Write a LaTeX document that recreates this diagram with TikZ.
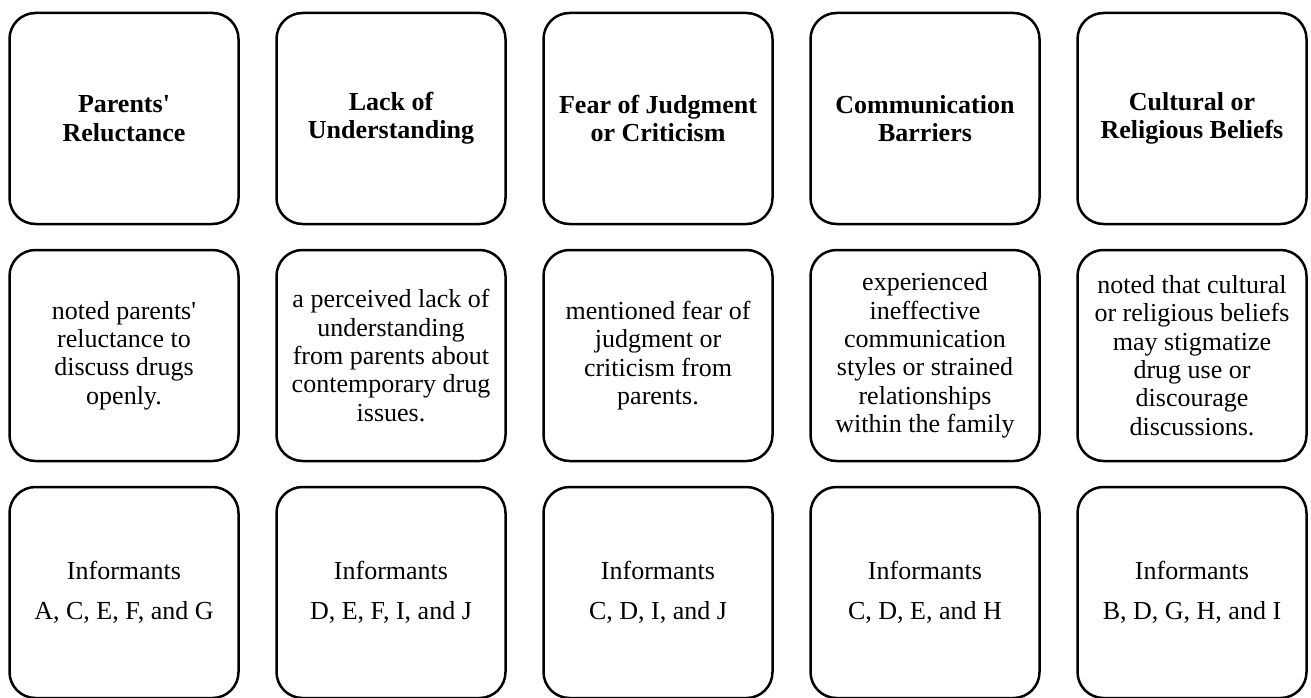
\documentclass[tikz,border=0pt]{standalone}
\usepackage{fontspec}
\setmainfont{Liberation Serif}
\usetikzlibrary{positioning}

\begin{document}
\begin{tikzpicture}[node distance={23.5pt and 35.5pt},
    box/.style={draw, line width=2.5pt, rounded corners=26pt, minimum width=229pt, minimum height=211pt, inner sep=2pt, align=center},
    topic/.style={box, font=\fontsize{26}{28.3}\selectfont\bfseries},
    detail/.style={box, font=\fontsize{26}{28.3}\selectfont},
    informant/.style={box, font=\fontsize{26}{28.5}\selectfont}]
    \useasboundingbox (0,0) rectangle (1311pt,-698pt);
    % themes
    \node[topic] (1) at (124pt,-118.5pt) {Parents\textquotesingle\\Reluctance};
    \node[topic] (2) [right=of 1] {Lack of\\Understanding};
    \node[topic] (3) [right=of 2] {Fear of Judgment\\or Criticism};
    \node[topic] (4) [right=of 3] {Communication\\Barriers};
    \node[topic] (5) [right=of 4] {Cultural or\\Religious Beliefs};
    % what was said
    \node[detail] (6) [below=of 1] {noted parents\textquotesingle\\reluctance to\\discuss drugs\\openly.};
    \node[detail] (7) [below=of 2] {a perceived lack of\\understanding\\from parents about\\contemporary drug\\issues.};
    \node[detail] (8) [below=of 3] {mentioned fear of\\judgment or\\criticism from\\parents.};
    \node[detail] (9) [below=of 4] {experienced\\ineffective\\communication\\styles or strained\\relationships\\within the family};
    \node[detail] (10) [below=of 5] {noted that cultural\\or religious beliefs\\may stigmatize\\drug use or\\discourage\\discussions.};
    % who said it
    \node[informant] (11) [below=of 6] {Informants\\[11.5pt]A, C, E, F, and G};
    \node[informant] (12) [below=of 7] {Informants\\[11.5pt]D, E, F, I, and J};
    \node[informant] (13) [below=of 8] {Informants\\[11.5pt]C, D, I, and J};
    \node[informant] (14) [below=of 9] {Informants\\[11.5pt]C, D, E, and H};
    \node[informant] (15) [below=of 10] {Informants\\[11.5pt]B, D, G, H, and I};
\end{tikzpicture}
\end{document}
